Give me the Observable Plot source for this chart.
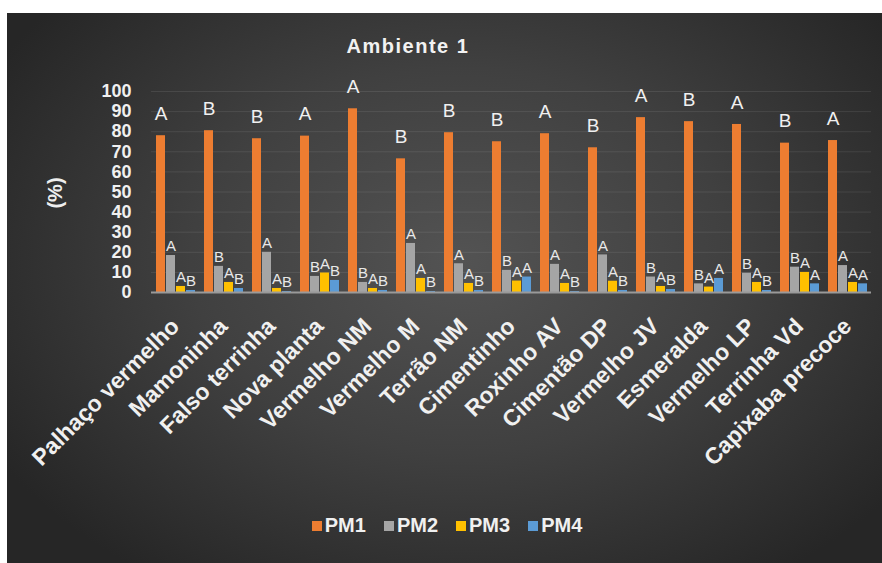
<!DOCTYPE html>
<html>
<head>
<meta charset="utf-8">
<script src="https://cdn.jsdelivr.net/npm/d3@7"></script>
<script src="https://cdn.jsdelivr.net/npm/@observablehq/plot@0.6"></script>
<style>
  body { margin:0; background:#fff; width:882px; height:563px; position:relative; overflow:hidden;
         font-family:"Liberation Sans", Arial, sans-serif; }
  #panel { position:absolute; left:7px; top:13px; width:875px; height:550px;
           background: radial-gradient(ellipse 62% 70% at 52% 45%, #535353 0%, #404040 50%, #262626 100%); }
  #chart { position:absolute; left:0; top:0; }
  #title { position:absolute; top:35px; left:308px; width:200px; text-align:center; color:#f2f2f2;
           font-weight:bold; font-size:20px; letter-spacing:1.5px; }
  #ylab { position:absolute; left:55px; top:193px; transform:translate(-50%,-50%) rotate(-90deg);
          color:#eee; font-weight:bold; font-size:20px; white-space:nowrap; }
  #legend { position:absolute; left:0; top:509px; width:882px; display:flex; justify-content:center;
            padding-left:30px; box-sizing:border-box; }
  #legend .leg-swatches { font: bold 20px "Liberation Sans", Arial, sans-serif !important; color:#f0f0f0 !important;
            background:transparent !important; margin:0 !important; }
  #legend .leg-swatch { margin-right:18px !important; }
  #legend .leg-swatch svg { margin-right:3px !important; }
</style>
</head>
<body>
<div id="panel"></div>
<div id="title">Ambiente 1</div>
<div id="ylab">(%)</div>
<div id="chart"></div>
<div id="legend"></div>
<script>
const categories = ["Palhaço vermelho","Mamoninha","Falso terrinha","Nova planta","Vermelho NM","Vermelho M",
  "Terrão NM","Cimentinho","Roxinho AV","Cimentão DP","Vermelho JV","Esmeralda","Vermelho LP","Terrinha Vd","Capixaba precoce"];
const series = ["PM1","PM2","PM3","PM4"];
const colors = ["#ED7D31","#A5A5A5","#FFC000","#5B9BD5"];
const pm1 = [78, 80.5, 76.5, 77.8, 91.4, 66.5, 79.5, 75, 79, 72, 87, 85, 83.6, 74.3, 75.6];
const pm2 = [18.4, 13, 20, 8, 5, 24.4, 14.3, 11, 14, 18.7, 7.7, 4.3, 9.6, 12.6, 13.4];
const pm3 = [3, 5, 2, 9.7, 2, 7, 4.5, 5.7, 4.5, 5.6, 3, 2.7, 5, 10, 5];
const pm4 = [1, 2, 0.5, 6, 1, 0.5, 1, 7.7, 0.5, 1, 1.5, 7, 1, 4.3, 4.3];
const pm1Letters = ["A","B","B","A","A","B","B","B","A","B","A","B","A","B","A"];
const pm2Letters = ["A","B","A","B","B","A","A","B","A","A","B","B","B","B","A"];
const pm3Letters = ["A","A","A","A","A","A","A","A","A","A","A","A","A","A","A"];
const pm4Letters = ["B","B","B","B","B","B","B","A","B","B","B","A","B","A","A"];
const yTicks = [0,10,20,30,40,50,60,70,80,90,100];

const values = [pm1, pm2, pm3, pm4];
const letters = [pm1Letters, pm2Letters, pm3Letters, pm4Letters];
const data = categories.flatMap((c, i) => series.map((s, j) => ({cat: c, series: s, value: values[j][i], letter: letters[j][i]})));

const plot = Plot.plot({
  width: 882, height: 500,
  marginLeft: 150, marginRight: 10, marginTop: 91, marginBottom: 208,
  style: {background: "transparent", fontFamily: "'Liberation Sans', Arial, sans-serif", color: "#eee"},
  fx: {domain: categories, padding: 0},
  x: {domain: series, paddingInner: 0.15, paddingOuter: 0.45, axis: null},
  y: {domain: [0, 100]},
  color: {domain: series, range: colors},
  marks: [
    Plot.gridY(yTicks, {stroke: "#ffffff", strokeOpacity: 0.09}),
    Plot.barY(data, {fx: "cat", x: "series", y: "value", fill: "series"}),
    Plot.ruleY([0], {stroke: "#9a9a9a", strokeWidth: 2}),
    Plot.text(data.filter(d => d.series === "PM1"), {fx: "cat", x: "series", y: "value", text: "letter", dy: -22, fontSize: 19, fill: "#f0f0f0"}),
    Plot.text(data.filter(d => d.series !== "PM1"), {fx: "cat", x: "series", y: "value", text: "letter", dy: -9, fontSize: 15, fill: "#e8e8e8"}),
    Plot.axisY(yTicks, {tickSize: 0, tickPadding: 20, fontSize: 18, fontWeight: "bold", fill: "#f0f0f0", label: null}),
    Plot.axisFx({anchor: "bottom", tickSize: 0, tickPadding: 30, tickRotate: -45, fontSize: 23, fontWeight: "bold", fill: "#f0f0f0", label: null})
  ]
});
document.getElementById("chart").appendChild(plot);
const leg = plot.legend("color", {className: "leg", swatchSize: 10});
document.getElementById("legend").appendChild(leg);
</script>
</body>
</html>
